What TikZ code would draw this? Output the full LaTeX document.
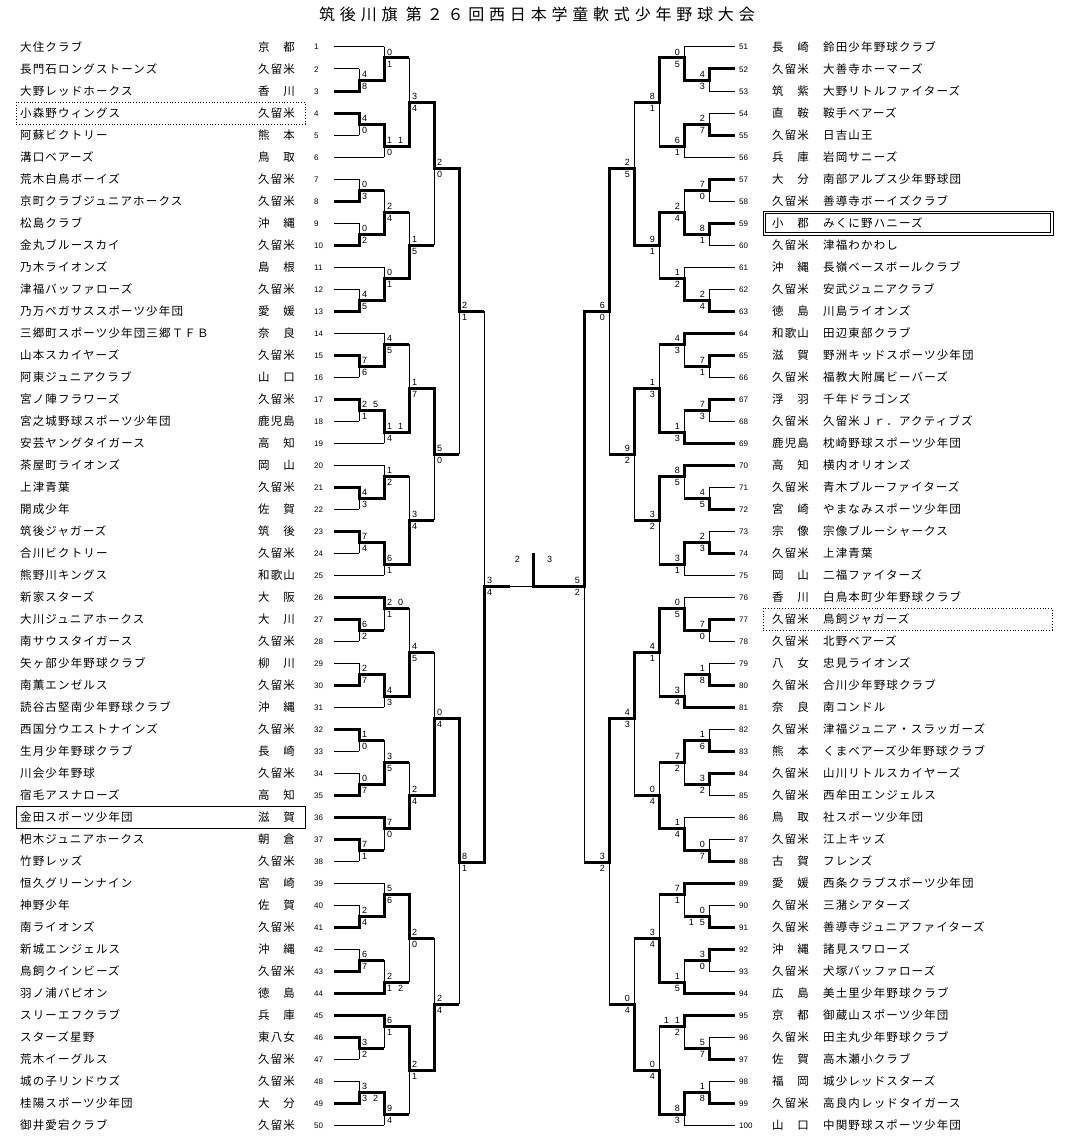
\documentclass[tikz,border=0pt]{standalone}
\usepackage{fontspec}
\newfontfamily\jpfont[LetterSpace=10]{Noto Sans CJK JP}
\newfontfamily\jptitle[LetterSpace=30]{Noto Sans CJK JP}
\newfontfamily\digfont{Liberation Sans}
\newcounter{scn}
\tikzset{
 thn/.style={line width=1pt},
 thk/.style={line width=3pt, line join=miter},
 score/.style={font=\digfont\fontsize{9}{9}\selectfont, inner sep=0pt},
 numlab/.style={font=\digfont\fontsize{8}{8}\selectfont, inner sep=0pt},
 nm/.style={font=\jpfont\fontsize{11.5}{12}\selectfont, inner sep=0pt},
 hlbox/.style={line width=0.8pt},
}
% left match: x, ytop, ybot, yout, xnext, xwinstart, ywin, topscore, botscore
\newcommand\LM[9]{%
 \draw[thn] (#1,#2) -- (#1,#3);
 \draw[thk] (#6,#7) -- (#1,#7) -- (#1,#4) -- (#5,#4);
 \stepcounter{scn}\node[score,anchor=base west] (sc\thescn) at (#1+3,#4-2.5) {#8};
 \stepcounter{scn}\node[score,anchor=base west] (sc\thescn) at (#1+3,#4+9.5) {#9};
}
\newcommand\RM[9]{%
 \draw[thn] (#1,#2) -- (#1,#3);
 \draw[thk] (#6,#7) -- (#1,#7) -- (#1,#4) -- (#5,#4);
 \stepcounter{scn}\node[score,anchor=base east] (sc\thescn) at (#1-4,#4-2.5) {#8};
 \stepcounter{scn}\node[score,anchor=base east] (sc\thescn) at (#1-4,#4+9.5) {#9};
}
\newcommand\LT[3]{%
 \node[nm,anchor=base west] (ln#1) at (20,{47+22*(#1-1)+4.5}) {#2};
 \node[nm,anchor=base west] (lp#1) at (258,{47+22*(#1-1)+4.5}) {#3};
 \node[numlab,anchor=base west] (n#1) at (314,{47+22*(#1-1)+3}) {#1};
}
\newcommand\RT[3]{%
 \node[numlab,anchor=base west] (n#1) at (739,{47+22*(#1-51)+3}) {#1};
 \node[nm,anchor=base west] (rp#1) at (772,{47+22*(#1-51)+4.5}) {#2};
 \node[nm,anchor=base west] (rn#1) at (823,{47+22*(#1-51)+4.5}) {#3};
}
\newcommand\LL[2]{\draw[thn] (334,{47+22*(#1-1)}) -- (#2,{47+22*(#1-1)});}
\newcommand\RL[2]{\draw[thn] (735,{47+22*(#1-51)}) -- (#2,{47+22*(#1-51)});}
\begin{document}
\begin{tikzpicture}[x=1pt,y=-1pt]
\useasboundingbox[fill=white] (0,0) rectangle (1069,1148);
\node[font=\jptitle\fontsize{16}{16}\selectfont, inner sep=0pt, anchor=base] (title) at (537,21) {筑後川旗 第２６回西日本学童軟式少年野球大会};

% ---------- left teams ----------
\LT{1}{大住クラブ}{京　都}
\LT{2}{長門石ロングストーンズ}{久留米}
\LT{3}{大野レッドホークス}{香　川}
\LT{4}{小森野ウィングス}{久留米}
\LT{5}{阿蘇ビクトリー}{熊　本}
\LT{6}{溝口ベアーズ}{鳥　取}
\LT{7}{荒木白鳥ボーイズ}{久留米}
\LT{8}{京町クラブジュニアホークス}{久留米}
\LT{9}{松島クラブ}{沖　縄}
\LT{10}{金丸ブルースカイ}{久留米}
\LT{11}{乃木ライオンズ}{島　根}
\LT{12}{津福バッファローズ}{久留米}
\LT{13}{乃万ペガサススポーツ少年団}{愛　媛}
\LT{14}{三郷町スポーツ少年団三郷ＴＦＢ}{奈　良}
\LT{15}{山本スカイヤーズ}{久留米}
\LT{16}{阿東ジュニアクラブ}{山　口}
\LT{17}{宮ノ陣フラワーズ}{久留米}
\LT{18}{宮之城野球スポーツ少年団}{鹿児島}
\LT{19}{安芸ヤングタイガース}{高　知}
\LT{20}{茶屋町ライオンズ}{岡　山}
\LT{21}{上津青葉}{久留米}
\LT{22}{開成少年}{佐　賀}
\LT{23}{筑後ジャガーズ}{筑　後}
\LT{24}{合川ビクトリー}{久留米}
\LT{25}{熊野川キングス}{和歌山}
\LT{26}{新家スターズ}{大　阪}
\LT{27}{大川ジュニアホークス}{大　川}
\LT{28}{南サウスタイガース}{久留米}
\LT{29}{矢ヶ部少年野球クラブ}{柳　川}
\LT{30}{南薫エンゼルス}{久留米}
\LT{31}{読谷古堅南少年野球クラブ}{沖　縄}
\LT{32}{西国分ウエストナインズ}{久留米}
\LT{33}{生月少年野球クラブ}{長　崎}
\LT{34}{川会少年野球}{久留米}
\LT{35}{宿毛アスナローズ}{高　知}
\LT{36}{金田スポーツ少年団}{滋　賀}
\LT{37}{杷木ジュニアホークス}{朝　倉}
\LT{38}{竹野レッズ}{久留米}
\LT{39}{恒久グリーンナイン}{宮　崎}
\LT{40}{神野少年}{佐　賀}
\LT{41}{南ライオンズ}{久留米}
\LT{42}{新城エンジェルス}{沖　縄}
\LT{43}{鳥飼クインビーズ}{久留米}
\LT{44}{羽ノ浦パピオン}{徳　島}
\LT{45}{スリーエフクラブ}{兵　庫}
\LT{46}{スターズ星野}{東八女}
\LT{47}{荒木イーグルス}{久留米}
\LT{48}{城の子リンドウズ}{久留米}
\LT{49}{桂陽スポーツ少年団}{大　分}
\LT{50}{御井愛宕クラブ}{久留米}

% ---------- right teams ----------
\RT{51}{長　崎}{鈴田少年野球クラブ}
\RT{52}{久留米}{大善寺ホーマーズ}
\RT{53}{筑　紫}{大野リトルファイターズ}
\RT{54}{直　鞍}{鞍手ベアーズ}
\RT{55}{久留米}{日吉山王}
\RT{56}{兵　庫}{岩岡サニーズ}
\RT{57}{大　分}{南部アルプス少年野球団}
\RT{58}{久留米}{善導寺ボーイズクラブ}
\RT{59}{小　郡}{みくに野ハニーズ}
\RT{60}{久留米}{津福わかわし}
\RT{61}{沖　縄}{長嶺ベースボールクラブ}
\RT{62}{久留米}{安武ジュニアクラブ}
\RT{63}{徳　島}{川島ライオンズ}
\RT{64}{和歌山}{田辺東部クラブ}
\RT{65}{滋　賀}{野洲キッドスポーツ少年団}
\RT{66}{久留米}{福教大附属ビーバーズ}
\RT{67}{浮　羽}{千年ドラゴンズ}
\RT{68}{久留米}{久留米Ｊｒ．アクティブズ}
\RT{69}{鹿児島}{枕崎野球スポーツ少年団}
\RT{70}{高　知}{横内オリオンズ}
\RT{71}{久留米}{青木ブルーファイターズ}
\RT{72}{宮　崎}{やまなみスポーツ少年団}
\RT{73}{宗　像}{宗像ブルーシャークス}
\RT{74}{久留米}{上津青葉}
\RT{75}{岡　山}{二福ファイターズ}
\RT{76}{香　川}{白鳥本町少年野球クラブ}
\RT{77}{久留米}{鳥飼ジャガーズ}
\RT{78}{久留米}{北野ベアーズ}
\RT{79}{八　女}{忠見ライオンズ}
\RT{80}{久留米}{合川少年野球クラブ}
\RT{81}{奈　良}{南コンドル}
\RT{82}{久留米}{津福ジュニア・スラッガーズ}
\RT{83}{熊　本}{くまベアーズ少年野球クラブ}
\RT{84}{久留米}{山川リトルスカイヤーズ}
\RT{85}{久留米}{西牟田エンジェルス}
\RT{86}{鳥　取}{社スポーツ少年団}
\RT{87}{久留米}{江上キッズ}
\RT{88}{古　賀}{フレンズ}
\RT{89}{愛　媛}{西条クラブスポーツ少年団}
\RT{90}{久留米}{三潴シアターズ}
\RT{91}{久留米}{善導寺ジュニアファイターズ}
\RT{92}{沖　縄}{諸見スワローズ}
\RT{93}{久留米}{犬塚バッファローズ}
\RT{94}{広　島}{美土里少年野球クラブ}
\RT{95}{京　都}{御蔵山スポーツ少年団}
\RT{96}{久留米}{田主丸少年野球クラブ}
\RT{97}{佐　賀}{高木瀬小クラブ}
\RT{98}{福　岡}{城少レッドスターズ}
\RT{99}{久留米}{高良内レッドタイガース}
\RT{100}{山　口}{中関野球スポーツ少年団}

% highlight boxes
\draw[hlbox,dotted] (16,102) rectangle (305,124);
\draw[hlbox] (16,806) rectangle (305,828);
\draw[hlbox] (763,211) rectangle (1053,235);
\draw[hlbox] (765.5,213.5) rectangle (1050.5,232.5);
\draw[hlbox,dotted] (763,608) rectangle (1052,630);

% ---------- left team lines ----------
\foreach \i in {2,3,4,5,7,8,9,10,12,13,15,16,17,18,21,22,23,24,27,28,29,30,32,33,34,35,37,38,40,41,42,43,46,47,48,49} {\LL{\i}{359}}
\foreach \i in {1,6,11,14,19,20,25,26,31,36,39,44,45,50} {\LL{\i}{384}}
% ---------- right team lines ----------
\foreach \i in {52,53,54,55,57,58,59,60,62,63,65,66,67,68,71,72,73,74,77,78,79,80,82,83,84,85,87,88,90,91,92,93,96,97,98,99} {\RL{\i}{709}}
\foreach \i in {51,56,61,64,69,70,75,76,81,86,89,94,95,100} {\RL{\i}{684}}

% ---------- left bracket ----------
\LM{359}{69}{91}{80}{384}{334}{91}{4}{8}
\LM{384}{47}{80}{58}{409}{359}{80}{0}{1}
\LM{359}{113}{135}{124}{384}{334}{113}{4}{0}
\LM{384}{124}{157}{146}{409}{359}{124}{1\hspace{6pt}1}{0}
\LM{409}{58}{146}{102}{434}{384}{146}{3}{4}
\LM{359}{179}{201}{190}{384}{334}{201}{0}{3}
\LM{359}{223}{245}{234}{384}{334}{245}{0}{2}
\LM{384}{190}{234}{212}{409}{359}{234}{2}{4}
\LM{359}{289}{311}{300}{384}{334}{311}{4}{5}
\LM{384}{267}{300}{278}{409}{359}{300}{0}{1}
\LM{409}{212}{278}{245}{434}{384}{278}{1}{5}
\LM{434}{102}{245}{168}{459}{409}{102}{2}{0}
\LM{359}{355}{377}{366}{384}{334}{355}{7}{6}
\LM{384}{333}{366}{344}{409}{359}{366}{4}{5}
\LM{359}{399}{421}{410}{384}{334}{399}{2\hspace{6pt}5}{1}
\LM{384}{410}{443}{432}{409}{359}{410}{1\hspace{6pt}1}{4}
\LM{409}{344}{432}{388}{434}{384}{432}{1}{7}
\LM{359}{487}{509}{498}{384}{334}{487}{4}{3}
\LM{384}{465}{498}{476}{409}{359}{498}{1}{2}
\LM{359}{531}{553}{542}{384}{334}{531}{7}{4}
\LM{384}{542}{575}{564}{409}{359}{542}{6}{1}
\LM{409}{476}{564}{520}{434}{384}{564}{3}{4}
\LM{434}{388}{520}{454}{459}{409}{388}{5}{0}
\LM{459}{168}{454}{311}{484}{434}{168}{2}{1}
\LM{359}{619}{641}{630}{384}{334}{619}{6}{2}
\LM{384}{597}{630}{608}{409}{334}{597}{2\hspace{6pt}0}{1}
\LM{359}{663}{685}{674}{384}{334}{685}{2}{7}
\LM{384}{674}{707}{696}{409}{359}{674}{4}{3}
\LM{409}{608}{696}{652}{434}{384}{696}{4}{5}
\LM{359}{729}{751}{740}{384}{334}{729}{1}{0}
\LM{359}{773}{795}{784}{384}{334}{795}{0}{7}
\LM{384}{740}{784}{762}{409}{359}{784}{3}{5}
\LM{359}{839}{861}{850}{384}{334}{839}{7}{1}
\LM{384}{817}{850}{828}{409}{334}{817}{7}{0}
\LM{409}{762}{828}{795}{434}{384}{828}{2}{4}
\LM{434}{652}{795}{718}{459}{409}{795}{0}{4}
\LM{359}{905}{927}{916}{384}{334}{927}{2}{4}
\LM{384}{883}{916}{894}{409}{359}{916}{5}{6}
\LM{359}{949}{971}{960}{384}{334}{971}{6}{7}
\LM{384}{960}{993}{982}{409}{334}{993}{2}{1\hspace{6pt}2}
\LM{409}{894}{982}{938}{434}{384}{894}{2}{0}
\LM{359}{1037}{1059}{1048}{384}{334}{1037}{3}{2}
\LM{384}{1015}{1048}{1026}{409}{334}{1015}{6}{1}
\LM{359}{1081}{1103}{1092}{384}{334}{1103}{3}{3\hspace{6pt}2}
\LM{384}{1092}{1125}{1114}{409}{359}{1092}{9}{4}
\LM{409}{1026}{1114}{1070}{434}{384}{1026}{2}{1}
\LM{434}{938}{1070}{1004}{459}{409}{1070}{2}{4}
\LM{459}{718}{1004}{862}{484}{434}{718}{8}{1}
\LM{484}{311}{862}{586}{510}{459}{862}{3}{4}

% ---------- right bracket ----------
\RM{709}{69}{91}{80}{684}{735}{69}{4}{3}
\RM{684}{47}{80}{58}{659}{709}{80}{0}{5}
\RM{709}{113}{135}{124}{684}{735}{135}{2}{7}
\RM{684}{124}{157}{146}{659}{709}{124}{6}{1}
\RM{659}{58}{146}{102}{634}{684}{58}{8}{1}
\RM{709}{179}{201}{190}{684}{735}{179}{7}{0}
\RM{709}{223}{245}{234}{684}{735}{223}{8}{1}
\RM{684}{190}{234}{212}{659}{709}{234}{2}{4}
\RM{709}{289}{311}{300}{684}{735}{311}{2}{4}
\RM{684}{267}{300}{278}{659}{709}{300}{1}{2}
\RM{659}{212}{278}{245}{634}{684}{212}{9}{1}
\RM{634}{102}{245}{168}{609}{659}{245}{2}{5}
\RM{709}{355}{377}{366}{684}{735}{355}{7}{1}
\RM{684}{333}{366}{344}{659}{735}{333}{4}{3}
\RM{709}{399}{421}{410}{684}{735}{399}{7}{3}
\RM{684}{410}{443}{432}{659}{735}{443}{1}{3}
\RM{659}{344}{432}{388}{634}{684}{432}{1}{3}
\RM{709}{487}{509}{498}{684}{735}{509}{4}{5}
\RM{684}{465}{498}{476}{659}{735}{465}{8}{5}
\RM{709}{531}{553}{542}{684}{735}{553}{2}{3}
\RM{684}{542}{575}{564}{659}{709}{542}{3}{1}
\RM{659}{476}{564}{520}{634}{684}{476}{3}{2}
\RM{634}{388}{520}{454}{609}{659}{388}{9}{2}
\RM{609}{168}{454}{311}{584}{634}{168}{6}{0}
\RM{709}{619}{641}{630}{684}{735}{619}{7}{0}
\RM{684}{597}{630}{608}{659}{709}{630}{0}{5}
\RM{709}{663}{685}{674}{684}{735}{685}{1}{8}
\RM{684}{674}{707}{696}{659}{735}{707}{3}{4}
\RM{659}{608}{696}{652}{634}{684}{608}{4}{1}
\RM{709}{729}{751}{740}{684}{735}{751}{1}{6}
\RM{709}{773}{795}{784}{684}{735}{773}{3}{2}
\RM{684}{740}{784}{762}{659}{709}{740}{7}{2}
\RM{709}{839}{861}{850}{684}{735}{861}{0}{7}
\RM{684}{817}{850}{828}{659}{709}{850}{1}{4}
\RM{659}{762}{828}{795}{634}{684}{828}{0}{4}
\RM{634}{652}{795}{718}{609}{659}{652}{4}{3}
\RM{709}{905}{927}{916}{684}{735}{927}{0}{1\hspace{6pt}5}
\RM{684}{883}{916}{894}{659}{735}{883}{7}{1}
\RM{709}{949}{971}{960}{684}{735}{949}{3}{0}
\RM{684}{960}{993}{982}{659}{735}{993}{1}{5}
\RM{659}{894}{982}{938}{634}{684}{982}{3}{4}
\RM{709}{1037}{1059}{1048}{684}{735}{1059}{5}{7}
\RM{684}{1015}{1048}{1026}{659}{735}{1015}{1\hspace{6pt}1}{2}
\RM{709}{1081}{1103}{1092}{684}{735}{1103}{1}{8}
\RM{684}{1092}{1125}{1114}{659}{709}{1092}{8}{3}
\RM{659}{1026}{1114}{1070}{634}{684}{1114}{0}{4}
\RM{634}{938}{1070}{1004}{609}{659}{1070}{0}{4}
\RM{609}{718}{1004}{862}{584}{634}{718}{3}{2}
\RM{584}{311}{862}{586}{533}{609}{311}{5}{2}

% ---------- final ----------
\coordinate (fl) at (510,586);
\coordinate (fc) at (533,586);
\coordinate (ftop) at (533,553);
\draw[thn] (fl) -- (fc);
\draw[thk] (560,586) -- (fc) -- (ftop);
\node[score,anchor=base east] (finL) at (520,562) {2};
\node[score,anchor=base west] (finR) at (547,562) {3};
\end{tikzpicture}
\end{document}
